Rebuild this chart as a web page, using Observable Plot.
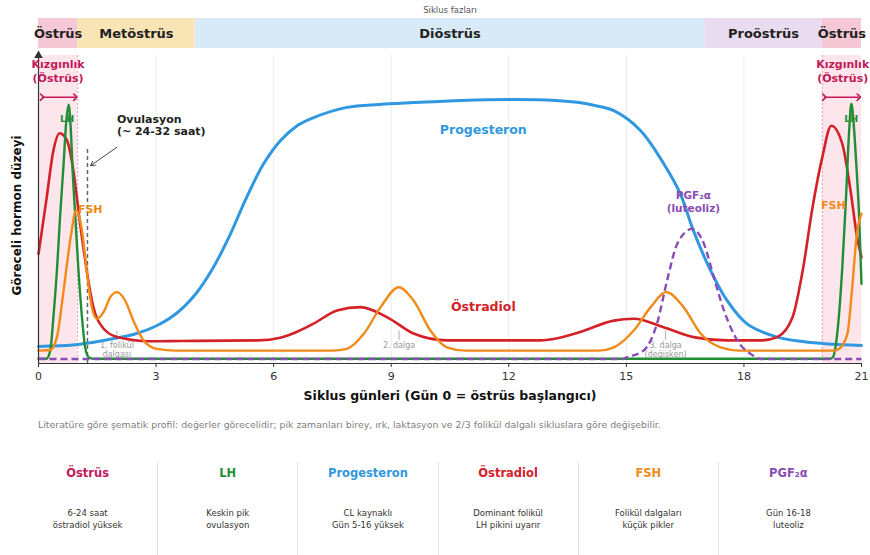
<!DOCTYPE html>
<html><head><meta charset="utf-8">
<script src="https://cdn.jsdelivr.net/npm/d3@7"></script>
<script src="https://cdn.jsdelivr.net/npm/@observablehq/plot@0.6"></script>
<style>
body{margin:0;background:#fff;font-family:"DejaVu Sans",sans-serif;width:870px;height:555px;position:relative;overflow:hidden}
#phase,#main{position:absolute;left:0}
#phase{top:0}
#main{top:50px}
#caption{position:absolute;left:38px;top:419px;font-size:9.4px;color:#808080;line-height:12px;white-space:nowrap}
#cards{position:absolute;left:18px;top:462px;width:840px;height:93px;display:flex}
.card{flex:1;text-align:center;padding-top:4px;box-sizing:border-box}
.card+.card{border-left:1px solid #e2e2e2}
.card .t{font-weight:bold;font-size:11.5px;line-height:14px}
.card .d{margin-top:26.5px;font-size:8.5px;line-height:12px;color:#333}
</style></head><body>
<div id="phase"></div><div id="main"></div><div id="caption"></div><div id="cards"></div>
<script>
// ---------- data ----------
const phaseNames = ["Östrüs","Metöstrüs","Diöstrüs","Proöstrüs","Östrüs"];
const phaseStart = [0,1,4,17,20];
const phaseEnd   = [1,4,17,20,21];
const tickDays = [0,3,6,9,12,15,18,21];
const gridDays = [3,6,9,12,15,18];
const estrusWindows = [[0,1],[20,21]];
const estrusBorders = [1,20];
const ovulationDay = 1.25;
const waveDays = [2.0, 9.2, 16.0];
const waveLabels = ["1. folikül\ndalgası","2. dalga","3. dalga\n(değişken)"];

const progesteron = [[0,5.7],[1,6.3],[2,8.5],[2.5,10],[3,12.5],[3.5,16.5],[4,23],[4.46,32],[4.89,43],[5.31,55.4],[5.74,66.5],[6.17,74.3],[6.6,79.3],[7.02,82],[7.87,85.4],[8.7,86.4],[9.57,87],[10.8,87.7],[12.1,88],[13.2,87.7],[13.8,87],[14.2,86],[14.68,84.3],[15.36,77.7],[15.95,66.7],[16.38,56.5],[16.71,44.3],[17.15,31],[17.57,21],[18.08,13.2],[18.85,8.8],[19.5,7.3],[20.14,6.5],[21,6]];
const ostradiol = [[0,36.5],[0.21,55.4],[0.38,71],[0.54,76.8],[0.73,74.3],[0.89,64.3],[1.06,46.7],[1.23,31],[1.4,18.8],[1.57,13.2],[2,8.8],[2.85,7.4],[3.62,7.5],[5.6,7.7],[6.17,8.6],[6.6,10.6],[7.02,13.3],[7.62,17.7],[8.21,18.8],[8.9,15.4],[9.57,10],[10.42,7.7],[12.8,7.7],[13.3,8.6],[13.8,10.4],[14.68,14.3],[15.19,14.9],[15.95,12.1],[16.71,8.8],[17.57,7.7],[18.45,7.7],[18.85,8.8],[19.24,15.4],[19.5,31],[19.75,52],[20,68.8],[20.23,79.3],[20.51,73.2],[20.72,57.7],[20.89,42],[21,35.4]];
const fsh = [[0,4.3],[0.3,4.5],[0.47,8.8],[0.64,24.3],[0.82,42],[0.96,51],[1.11,44.3],[1.23,31],[1.36,18.8],[1.49,14.9],[1.66,17.1],[1.83,22.1],[2,23.8],[2.21,21],[2.42,14.3],[2.68,7.7],[3.02,4.9],[3.5,4.3],[7.5,4.3],[7.87,4.9],[8.3,9.9],[8.73,18.8],[9.19,25.4],[9.57,21],[10,11],[10.42,5.4],[10.9,4.3],[14.3,4.3],[14.68,5.4],[15.19,11],[15.62,18.8],[16.02,23.8],[16.46,18.8],[16.9,9.9],[17.4,5.4],[17.9,4.3],[20.3,4.3],[20.42,4.8],[20.64,9.9],[20.77,26.5],[20.88,43],[21,50]];
const lh = [[0,1.6],[0.2,1.6],[0.3,4.3],[0.38,15.4],[0.47,31],[0.55,48.8],[0.64,66.5],[0.71,81],[0.77,86.3],[0.82,79],[0.88,62],[0.94,48.8],[1.02,31],[1.11,15.4],[1.19,5.4],[1.28,2.1],[1.4,1.6],[20.2,1.6],[20.27,2.1],[20.38,9.9],[20.51,32],[20.6,54],[20.68,76.5],[20.74,86.6],[20.8,80],[20.86,68],[20.94,48.8],[21,26.5]];
const pgf = [[0,1.5],[14.9,1.5],[15.02,2.1],[15.44,4.3],[15.78,13.2],[16.04,27.7],[16.3,39.9],[16.68,44.9],[16.98,39.9],[17.23,28.8],[17.49,17.7],[17.83,7.7],[18.17,3.2],[18.43,1.5],[21,1.5]];

const annotations = [
  {key:"prog", x:11.35, y:77.7, text:"Progesteron"},
  {key:"e2",   x:11.35, y:19,   text:"Östradiol"},
  {key:"fsh",  x:1.32,  y:51.5, text:"FSH"},
  {key:"fsh",  x:20.28, y:52.7, text:"FSH"},
  {key:"lh",   x:0.73,  y:81.7, text:"LH"},
  {key:"lh",   x:20.74, y:81.6, text:"LH"},
  {key:"pgf",  x:16.71, y:55.7, text:"PGF₂α\n(luteoliz)"}
];
const estrusLabelX = [0.5, 20.52];
const estrusArrows = [[0.09,0.94],[20.05,20.93]];
const ovulationText = {x:2.0, y:81, text:"Ovulasyon\n(~ 24-32 saat)"};
const ovulationArrow = {x1:2.0, y1:72.1, x2:1.33, y2:66};

const captionText = "Literatüre göre şematik profil: değerler görecelidir; pik zamanları birey, ırk, laktasyon ve 2/3 folikül dalgalı sikluslara göre değişebilir.";
const cardTitles = ["Östrüs","LH","Progesteron","Östradiol","FSH","PGF₂α"];
const cardLine1 = ["6-24 saat","Keskin pik","CL kaynaklı","Dominant folikül","Folikül dalgaları","Gün 16-18"];
const cardLine2 = ["östradiol yüksek","ovulasyon","Gün 5-16 yüksek","LH pikini uyarır","küçük pikler","luteoliz"];

// ---------- styles ----------
const C = {prog:"#2f98e0", e2:"#d42027", fsh:"#f28a1a", lh:"#1f8e34", pgf:"#8a4cb5", estrus:"#c2185b"};
const phaseFill = {"Östrüs":"#f6c8d5","Metöstrüs":"#f9e4b6","Diöstrüs":"#d8e9f7","Proöstrüs":"#e9dcf0"};
const cardColor = ["#c2185b", C.lh, C.prog, C.e2, C.fsh, C.pgf];
const yMax = 102.7;
const font = "DejaVu Sans";

// ---------- phase bar ----------
const idx = d3.range(phaseNames.length);
const phasePlot = Plot.plot({
  width: 870, height: 50, marginLeft: 38, marginRight: 9, marginTop: 18, marginBottom: 2,
  x: {domain: [0, 21], axis: null}, y: {domain: [0, 1], axis: null},
  color: {type: "identity"},
  style: {fontFamily: font, overflow: "visible", background: "transparent"},
  marks: [
    Plot.rect(idx, {x1: i => phaseStart[i], x2: i => phaseEnd[i], y1: 0, y2: 1, fill: i => phaseFill[phaseNames[i]]}),
    Plot.text(idx, {x: i => (phaseStart[i] + phaseEnd[i]) / 2, y: 0.5, text: i => phaseNames[i], fontWeight: "bold", fontSize: 13, fill: "#222"}),
    Plot.text(["Siklus fazları"], {frameAnchor: "top", dy: -12, fontSize: 8.5, fill: "#555"})
  ]
});
document.getElementById("phase").append(phasePlot);

// ---------- main chart ----------
const X = d => d[0], Y = d => d[1];
const lineOpts = (c, w, curve = "monotone-x") => ({x: X, y: Y, stroke: c, strokeWidth: w, curve, strokeLinejoin: "round", strokeLinecap: "round"});
const main = Plot.plot({
  width: 870, height: 360, marginLeft: 38, marginRight: 9, marginTop: 5, marginBottom: 47,
  x: {domain: [0, 21]}, y: {domain: [0, yMax], axis: null},
  style: {fontFamily: font, overflow: "visible", background: "transparent"},
  marks: [
    Plot.rect(estrusWindows, {x1: X, x2: Y, y1: 0, y2: yMax, fill: "#fce5eb"}),
    Plot.ruleX(gridDays, {stroke: "#ececec", strokeWidth: 1}),
    Plot.ruleX(estrusBorders, {stroke: "#e5a0b5", strokeDasharray: "2,2", strokeWidth: 1}),
    Plot.ruleX([ovulationDay], {y1: 0, y2: 71.7, stroke: "#666", strokeDasharray: "4,3", strokeWidth: 1.5}),
    Plot.ruleX(waveDays, {y1: 7.7, y2: 10.8, stroke: "#b0b0b0", strokeWidth: 1}),
    Plot.text(waveDays, {x: d => d, y: 7.3, text: (d, i) => waveLabels[i], lineAnchor: "top", fontSize: 8, fill: "#9a9a9a", lineHeight: 1.1}),
    Plot.line(progesteron, lineOpts(C.prog, 3, "catmull-rom")),
    Plot.line(ostradiol, lineOpts(C.e2, 2.6)),
    Plot.line(lh, lineOpts(C.lh, 2.4)),
    Plot.line(fsh, lineOpts(C.fsh, 2.4)),
    Plot.line(pgf, {...lineOpts(C.pgf, 2.4), strokeDasharray: "7,4", strokeLinecap: "butt"}),
    Plot.ruleY([0], {stroke: "#333", strokeWidth: 1.2}),
    Plot.ruleX([0], {stroke: "#333", strokeWidth: 1.2}),
    Plot.dot([[0, yMax]], {x: X, y: Y, symbol: "triangle", r: 3.2, fill: "#333", stroke: null}),
    Plot.axisX({ticks: tickDays, tickSize: 4, tickPadding: 5, fontSize: 11, label: null, fill: "#333", stroke: "#333"}),
    Plot.text(["Siklus günleri (Gün 0 = östrüs başlangıcı)"], {frameAnchor: "bottom", dy: 36, fontWeight: "bold", fontSize: 12.5, fill: "#111"}),
    Plot.text(["Göreceli hormon düzeyi"], {frameAnchor: "left", textAnchor: "middle", rotate: -90, dx: -21, dy: 6, fontWeight: "bold", fontSize: 12, fill: "#111"}),
    // hormone labels
    Plot.text(annotations.filter(a => a.key === "prog" || a.key === "e2"), {x: "x", y: "y", text: "text", fill: a => C[a.key], fontWeight: "bold", fontSize: 12.5}),
    Plot.text(annotations.filter(a => a.key === "fsh"), {x: "x", y: "y", text: "text", fill: C.fsh, fontWeight: "bold", fontSize: 11}),
    Plot.text(annotations.filter(a => a.key === "lh"), {x: "x", y: "y", text: "text", fill: C.lh, fontWeight: "bold", fontSize: 9.5}),
    Plot.text(annotations.filter(a => a.key === "pgf"), {x: "x", y: "y", text: "text", fill: C.pgf, fontWeight: "bold", fontSize: 10.5, lineAnchor: "top", dy: -6, lineHeight: 1.2}),
    // estrus annotation
    Plot.text(estrusLabelX, {x: d => d, y: 99.3, text: () => "Kızgınlık\n(Östrüs)", fill: C.estrus, fontWeight: "bold", fontSize: 11, lineAnchor: "top", dy: -7, lineHeight: 1.25}),
    Plot.link(estrusArrows, {x1: X, x2: Y, y1: 88.8, y2: 88.8, stroke: C.estrus, strokeWidth: 1.6, markerStart: "arrow", markerEnd: "arrow"}),
    // ovulation annotation
    Plot.text([ovulationText], {x: "x", y: "y", text: "text", textAnchor: "start", lineAnchor: "top", dy: -6, fontWeight: "bold", fontSize: 11, fill: "#222", lineHeight: 1.1}),
    Plot.arrow([ovulationArrow], {x1: "x1", y1: "y1", x2: "x2", y2: "y2", stroke: "#444", strokeWidth: 1, headLength: 7})
  ]
});
document.getElementById("main").append(main);

// ---------- caption & cards ----------
document.getElementById("caption").textContent = captionText;
const cards = document.getElementById("cards");
cardTitles.forEach((t, i) => {
  const c = document.createElement("div");
  c.className = "card";
  c.innerHTML = `<div class="t" style="color:${cardColor[i]}">${t}</div><div class="d">${cardLine1[i]}<br>${cardLine2[i]}</div>`;
  cards.append(c);
});
</script></body></html>
